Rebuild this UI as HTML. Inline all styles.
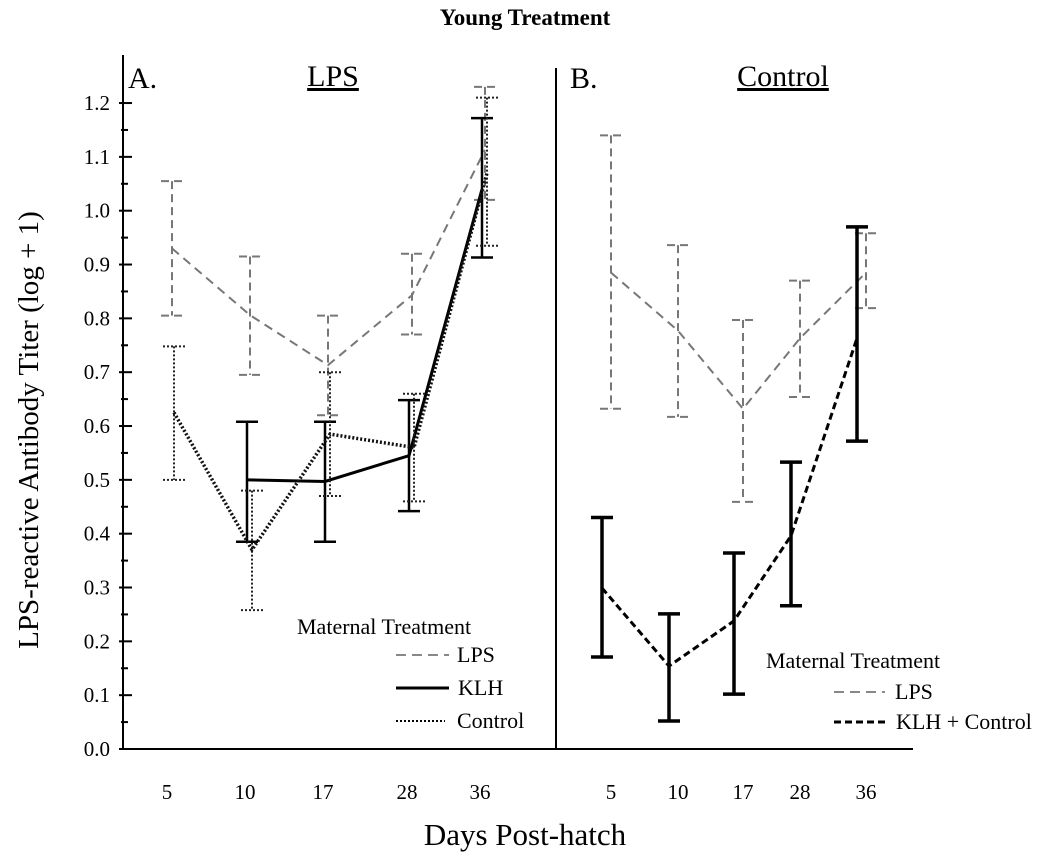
<!DOCTYPE html>
<html><head><meta charset="utf-8"><style>
body{margin:0;background:#fff}
svg{display:block;font-family:"Liberation Serif",serif}
</style></head><body>
<svg id="chart" width="1050" height="860" viewBox="0 0 1050 860">
<text x="525" y="25" text-anchor="middle" font-size="23" font-weight="bold">Young Treatment</text>
<text x="128" y="88" font-size="30">A.</text>
<text x="333" y="86" text-anchor="middle" font-size="30" text-decoration="underline">LPS</text>
<text x="570" y="88" font-size="30">B.</text>
<text x="783" y="86" text-anchor="middle" font-size="30" text-decoration="underline">Control</text>
<text transform="translate(38,430) rotate(-90)" text-anchor="middle" font-size="29">LPS-reactive Antibody Titer (log + 1)</text>
<text x="525" y="845" text-anchor="middle" font-size="31">Days Post-hatch</text>
<g id="axes"></g>
<g id="marks"></g>
<g id="legends"></g>
</svg>
<script>
const days=["5","10","17","28","36"];
const yTicks=["0.0","0.1","0.2","0.3","0.4","0.5","0.6","0.7","0.8","0.9","1.0","1.1","1.2"];
// Panel A
const aLpsMean=[0.93,0.806,0.713,0.843,1.113];
const aLpsHi=[1.055,0.915,0.805,0.92,1.23];
const aLpsLo=[0.805,0.695,0.62,0.77,1.02];
const aKlhMean=[null,0.50,0.497,0.545,1.04];
const aKlhHi=[null,0.608,0.608,0.648,1.172];
const aKlhLo=[null,0.385,0.385,0.442,0.913];
const aCtlMean=[0.625,0.37,0.585,0.56,1.07];
const aCtlHi=[0.748,0.48,0.70,0.66,1.21];
const aCtlLo=[0.50,0.258,0.47,0.46,0.935];
// Panel B
const bLpsMean=[0.885,0.777,0.632,0.763,0.885];
const bLpsHi=[1.14,0.936,0.797,0.87,0.958];
const bLpsLo=[0.632,0.617,0.459,0.654,0.819];
const bKcMean=[0.299,0.154,0.238,0.396,0.763];
const bKcHi=[0.43,0.251,0.364,0.533,0.97];
const bKcLo=[0.171,0.052,0.102,0.266,0.572];

const NS="http://www.w3.org/2000/svg";
const Y=v=>749-v*538.3;
const xA=i=>167+[0,78,156,240,313][i];
const xB=i=>611+[0,67,132,189,255][i];
function mk(tag,attrs,parent){const e=document.createElementNS(NS,tag);for(const k in attrs)e.setAttribute(k,attrs[k]);parent.appendChild(e);return e;}
const axes=document.getElementById('axes'),marks=document.getElementById('marks'),leg=document.getElementById('legends');

let e=mk('line',{x1:123,y1:55,x2:123,y2:749,stroke:'#000','stroke-width':2},axes);


e=mk('line',{x1:123,y1:749,x2:913,y2:749,stroke:'#000','stroke-width':2},axes);


e=mk('line',{x1:556,y1:68,x2:556,y2:749,stroke:'#000','stroke-width':2},axes);


yTicks.forEach((t,i)=>{
  const v=i/10,y=Y(v);
  let tk=mk('line',{x1:119,y1:y,x2:132,y2:y,stroke:'#000','stroke-width':2},axes);
  
  
  let lb=mk('text',{x:110,y:y+7,'text-anchor':'end','font-size':21},axes);
  lb.textContent=t;
  
  
  if(i<yTicks.length-1){
    let mt=mk('line',{x1:121,y1:Y(v+0.05),x2:128,y2:Y(v+0.05),stroke:'#000','stroke-width':2},axes);
    
    
  }
});
days.forEach((d,i)=>{
  [xA(i),xB(i)].forEach(x=>{
    let lb=mk('text',{x:x,y:799,'text-anchor':'middle','font-size':21},axes);
    lb.textContent=d;
    
    
  });
});

function series(xf,off,mean,hi,lo,style,name){
  const g=mk('g',{},marks);
  
  
  const pts=[];
  mean.forEach((m,i)=>{
    if(m===null)return;
    const x=xf(i)+off;
    pts.push(x+','+Y(m));
    const eb=mk('path',{d:`M${x},${Y(hi[i])}V${Y(lo[i])}M${x-11},${Y(hi[i])}H${x+11}M${x-11},${Y(lo[i])}H${x+11}`,fill:'none',...style.err},g);
    
    
  });
  const pl=mk('polyline',{points:pts.join(' '),fill:'none',...style.line},g);
  
  
}
const lpsStyle={line:{stroke:'#777','stroke-width':2,'stroke-dasharray':'9,6'},err:{stroke:'#777','stroke-width':2,'stroke-dasharray':'8,5'}};
const klhStyle={line:{stroke:'#000','stroke-width':3},err:{stroke:'#000','stroke-width':2.5}};
const ctlStyle={line:{stroke:'#111','stroke-width':3.5,'stroke-dasharray':'2,2'},err:{stroke:'#222','stroke-width':2,'stroke-dasharray':'2,2'}};
const kcStyle={line:{stroke:'#000','stroke-width':3,'stroke-dasharray':'7,4'},err:{stroke:'#000','stroke-width':3.5}};
series(xA,5,aLpsMean,aLpsHi,aLpsLo,lpsStyle,'panel-a-lps-series');
series(xA,2,aKlhMean,aKlhHi,aKlhLo,klhStyle,'panel-a-klh-series');
series(xA,7,aCtlMean,aCtlHi,aCtlLo,ctlStyle,'panel-a-control-series');
series(xB,0,bLpsMean,bLpsHi,bLpsLo,lpsStyle,'panel-b-lps-series');
series(xB,-9,bKcMean,bKcHi,bKcLo,kcStyle,'panel-b-klh-control-series');

function legend(x0,y0,items,name){
  const g=mk('g',{},leg);
  
  
  let t=mk('text',{x:x0,y:y0,'font-size':22},g);
  t.textContent='Maternal Treatment';
  
  
  items.forEach(it=>{
    const l=mk('line',{x1:it.lx1,x2:it.lx2,y1:it.y,y2:it.y,...it.style},g);
    
    
    const tx=mk('text',{x:it.tx,y:it.y+7,'font-size':22},g);
    tx.textContent=it.label;
    
    
  });
}
legend(297,634,[
 {label:'LPS',lx1:396,lx2:449,y:655,tx:457,style:{stroke:'#888','stroke-width':2,'stroke-dasharray':'10,6'}},
 {label:'KLH',lx1:396,lx2:449,y:688,tx:458,style:{stroke:'#000','stroke-width':3}},
 {label:'Control',lx1:396,lx2:445,y:721,tx:457,style:{stroke:'#000','stroke-width':2,'stroke-dasharray':'2,2'}}
],'panel-a-legend');
legend(766,668,[
 {label:'LPS',lx1:834,lx2:885,y:692,tx:895,style:{stroke:'#888','stroke-width':2,'stroke-dasharray':'10,6'}},
 {label:'KLH + Control',lx1:834,lx2:885,y:722,tx:896,style:{stroke:'#000','stroke-width':3,'stroke-dasharray':'7,4'}}
],'panel-b-legend');
</script>
</body></html>
